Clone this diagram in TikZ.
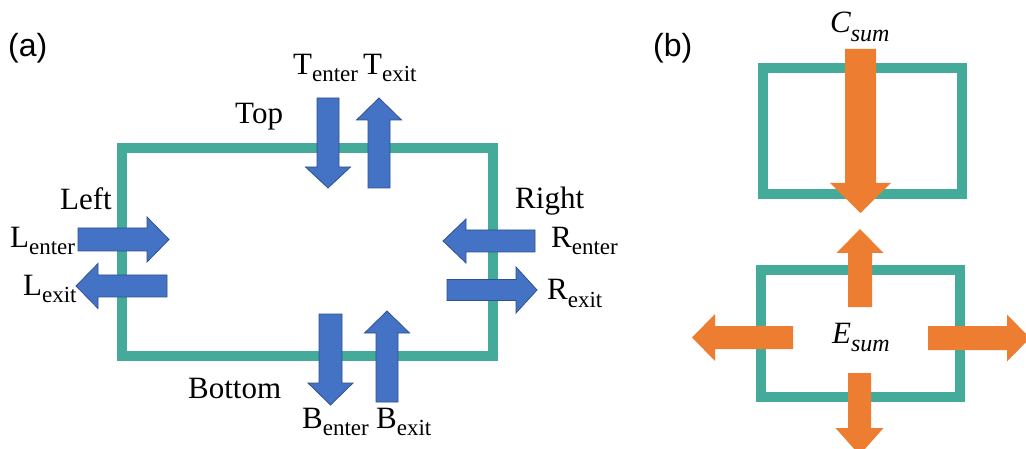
\documentclass[tikz,border=0pt]{standalone}
\usepackage{fontspec}
\setmainfont{Liberation Serif}
\newfontfamily\panelfont{Liberation Sans}

\definecolor{framecol}{RGB}{68,170,153}
\definecolor{fluxblue}{RGB}{68,114,196}
\definecolor{fluxedge}{RGB}{47,82,143}
\definecolor{sumorange}{RGB}{237,125,49}

% vertical block arrow: style, centre x, tail y, tip y, shaft half width, head half width, head base y
\newcommand{\varrow}[7]{%
  \path[#1] (#2-#5,#3) -- (#2+#5,#3) -- (#2+#5,#7) -- (#2+#6,#7) -- (#2,#4)
    -- (#2-#6,#7) -- (#2-#5,#7) -- cycle;}
% horizontal block arrow: style, centre y, tail x, tip x, shaft half width, head half width, head base x
\newcommand{\harrow}[7]{%
  \path[#1] (#3,#2-#5) -- (#7,#2-#5) -- (#7,#2-#6) -- (#4,#2) -- (#7,#2+#6)
    -- (#7,#2+#5) -- (#3,#2+#5) -- cycle;}
% flux label with a lowered subscript word
\newcommand{\fluxlabel}[2]{{\fontsize{31}{31}\selectfont #1}{\fontsize{23}{23}\selectfont\raisebox{-7pt}{#2}}}
\newcommand{\sumlabel}[2]{{\fontsize{31}{31}\selectfont\itshape #1}{\fontsize{24}{24}\selectfont\itshape\raisebox{-9pt}{#2}}}

\tikzset{
  cellframe/.style={draw=framecol, line width=10pt, line join=miter},
  bluearrow/.style={fill=fluxblue, draw=fluxedge, line width=0.8pt, line join=miter},
  orangearrow/.style={fill=sumorange},
  word/.style={inner sep=0pt, anchor=base west, font=\fontsize{31}{31}\selectfont},
  panel/.style={inner sep=0pt, anchor=base west, font=\panelfont\fontsize{32}{32}\selectfont},
}

\begin{document}
\begin{tikzpicture}[x=1pt, y=-1pt]
  \useasboundingbox (0,0) rectangle (1026,449);
  \fill[white] (0,0) rectangle (1026,449);
  \clip (0,0) rectangle (1026,449);

  % panel (a): cell with fluxes through each face
  \draw[cellframe] (122,148) rectangle (493,356);

  \varrow{bluearrow}{328}{98}{188}{11}{22.5}{167}
  \varrow{bluearrow}{379}{188}{98}{11}{22.5}{120}
  \harrow{bluearrow}{239.5}{78}{169}{11.5}{22.5}{147}
  \harrow{bluearrow}{286}{167}{76}{11}{22.5}{98}
  \harrow{bluearrow}{241}{535}{443}{11}{22}{466}
  \harrow{bluearrow}{290}{447}{537}{10.5}{23}{516}
  \varrow{bluearrow}{330.5}{314}{405}{11.5}{22.5}{383}
  \varrow{bluearrow}{387}{402}{311}{11}{22.5}{333}

  \node[panel] (lbla) at (8,57) {(a)};
  \node[word] (top) at (235,124) {Top};
  \node[word] (left) at (60,210) {Left};
  \node[word] (right) at (515,209) {Right};
  \node[word] (bottom) at (188,398) {Bottom};
  \node[word] (tenter) at (293,75) {\fluxlabel{T}{enter}};
  \node[word] (texit) at (363,75) {\fluxlabel{T}{exit}};
  \node[word] (lenter) at (10,248) {\fluxlabel{L}{enter}};
  \node[word] (lexit) at (23,295) {\fluxlabel{L}{exit}};
  \node[word] (renter) at (551,248) {\fluxlabel{R}{enter}};
  \node[word] (rexit) at (547,300) {\fluxlabel{R}{exit}};
  \node[word] (benter) at (302,428) {\fluxlabel{B}{enter}};
  \node[word] (bexit) at (376,428) {\fluxlabel{B}{exit}};

  % panel (b): convergence into one cell, emission out of another
  \draw[cellframe] (763,68) rectangle (962,194);
  \draw[cellframe] (761,270) rectangle (960,397);

  \varrow{orangearrow}{860.5}{49}{213}{15.5}{30.5}{183}
  \varrow{orangearrow}{860}{307}{229}{12}{23.5}{253}
  \harrow{orangearrow}{337.5}{793}{692}{11.5}{23.5}{715}
  \harrow{orangearrow}{338}{928}{1030}{12}{23.5}{1007}
  \varrow{orangearrow}{859.5}{373}{455}{11.5}{24}{428}

  \node[panel] (lblb) at (653,57) {(b)};
  \node[word] (csum) at (830,33) {\sumlabel{C}{sum}};
  \node[word] (esum) at (832,343) {\sumlabel{E}{sum}};
\end{tikzpicture}
\end{document}
